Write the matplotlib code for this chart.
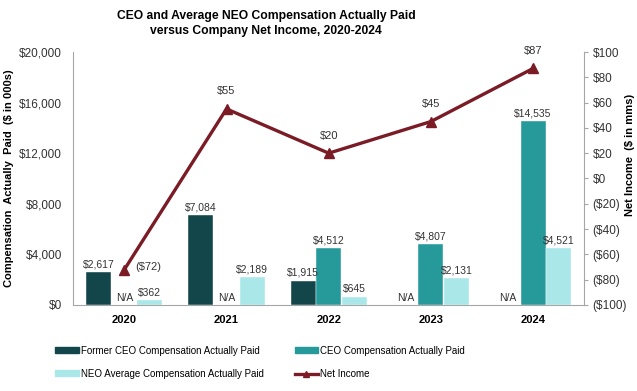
import matplotlib
matplotlib.use("Agg")
import matplotlib.pyplot as plt
import numpy as np
from matplotlib.patches import Patch
from matplotlib.lines import Line2D

plt.rcParams['font.family'] = ['Liberation Sans', 'DejaVu Sans']

years = ['2020', '2021', '2022', '2023', '2024']
former_ceo = [2617, 7084, 1915, None, None]
ceo = [None, None, 4512, 4807, 14535]
neo_avg = [362, 2189, 645, 2131, 4521]
net_income = [-72, 55, 20, 45, 87]

c_former = '#12464A'
c_ceo = '#26999B'
c_neo = '#A9E7E9'
c_net = '#7A1B25'
c_axis = '#A6A6A6'

fig = plt.figure(figsize=(6.37, 3.91), dpi=100)
ax = fig.add_axes([0.115, 0.22, 0.802, 0.647])
ax2 = ax.twinx()

x = np.arange(len(years))
w = 0.245
off = 0.25


def money(v):
    return f"${v:,.0f}" if v >= 0 else f"(${-v:,.0f})"


for series, dx, col in [(former_ceo, -off, c_former), (ceo, 0, c_ceo), (neo_avg, off, c_neo)]:
    for i, v in enumerate(series):
        if v is None:
            ax.text(x[i] + dx, 150, 'N/A', ha='center', va='bottom', fontsize=7.5, color='#333333')
            continue
        ax.bar(x[i] + dx, v, width=w, color=col, edgecolor='white', linewidth=0.3)
        ax.annotate(money(v), (x[i] + dx, v), xytext=(0, 2), textcoords='offset points',
                    ha='center', va='bottom', fontsize=7.5, color='#333333')

ax.set_xlim(-0.5, 4.5)
ax.set_ylim(0, 20000)
ax.set_yticks(np.arange(0, 20001, 4000))
ax.set_yticklabels([money(v) for v in np.arange(0, 20001, 4000)], fontsize=8.5, color='#333333')
ax.set_xticks(x)
ax.set_xticklabels(years, fontsize=8, fontweight='bold')
ax.tick_params(axis='x', length=0, pad=7)
ax.tick_params(axis='y', length=0, pad=8)
ax.set_ylabel('Compensation  Actually  Paid  ($ in 000s)', fontsize=8, fontweight='bold', labelpad=4)

ax2.plot(x, net_income, color=c_net, lw=2.4, marker='^', markersize=6.5, zorder=5)
ax2.set_ylim(-100, 100)
rt = np.arange(-100, 101, 20)
ax2.set_yticks(rt)
ax2.set_yticklabels([money(v) for v in rt], fontsize=8.5, color='#333333')
ax2.tick_params(axis='y', length=3, color=c_axis, pad=3)
ax2.set_ylabel('Net Income  ($ in mms)', fontsize=8, fontweight='bold')
ax2.yaxis.set_label_coords(1.09, 0.595)
ax2.yaxis.label.set_rotation(90)
ax2.yaxis.label.set_va('center')

for i, v in enumerate(net_income):
    if i == 0:
        ax2.annotate(money(v), (x[i], v), xytext=(8, 2), textcoords='offset points',
                     ha='left', va='center', fontsize=8, color='#333333')
    else:
        ax2.annotate(money(v), (x[i], v), xytext=(0, 9), textcoords='offset points',
                     ha='center', va='bottom', fontsize=8, color='#333333')

for a in (ax, ax2):
    a.spines['top'].set_visible(False)
    for s in ('left', 'right', 'bottom'):
        a.spines[s].set_color(c_axis)
ax.spines['right'].set_visible(False)
ax2.spines['left'].set_visible(False)
ax2.spines['bottom'].set_visible(False)

fig.text(0.418, 0.939, 'CEO and Average NEO Compensation Actually Paid\nversus Company Net Income, 2020-2024',
         ha='center', va='center', fontsize=8.7, fontweight='bold', linespacing=1.35)

handles = [Patch(color=c_former), Patch(color=c_neo), Patch(color=c_ceo),
           Line2D([], [], color=c_net, lw=2.4, marker='^', markersize=4)]
labels = ['Former CEO Compensation Actually Paid', 'NEO Average Compensation Actually Paid',
          'CEO Compensation Actually Paid', 'Net Income']
fig.legend(handles, labels, ncol=2, loc='center', bbox_to_anchor=(0.408, 0.074), frameon=False,
           fontsize=7, handlelength=2.4, handleheight=0.5, handletextpad=0.2,
           columnspacing=3.2, labelspacing=1.35)

fig.savefig('out.png', dpi=100)
